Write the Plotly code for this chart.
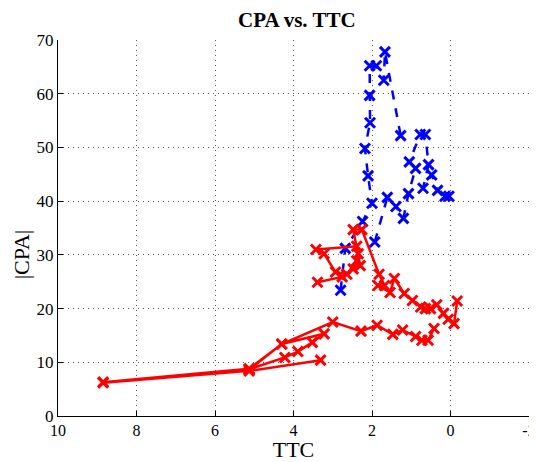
import plotly.graph_objects as go

# Blue track (dashed): TTC and |CPA|; None marks a break in the line
blue_ttc = [2.80, 2.68, 2.24, 2.00, 2.10, 2.18, 2.05, 2.06, 2.06, 1.89, 1.70, 1.67, 1.27,
            None,
            1.93, 1.61, 1.39, 1.20, 1.07, 0.89, 1.05, 0.77, 0.64, 0.56, 0.70, 0.48, 0.33, 0.14, 0.04]
blue_cpa = [23.4, 31.2, 36.2, 39.6, 44.7, 49.8, 54.6, 59.7, 65.2, 65.2, 62.5, 67.8, 52.2,
            None,
            32.4, 40.7, 39.0, 36.8, 41.4, 46.1, 47.3, 52.4, 52.4, 46.8, 42.4, 44.9, 42.0, 40.9, 40.9]

# Red track (solid)
red_ttc = [3.39, 2.76, 2.48, 2.35, 2.39, 3.43, 3.22, 2.93, 2.64, 2.39, 2.30, 2.48, 2.26, 1.82,
           1.68, 1.85, 1.54, 1.43, 1.18, 0.97, 0.76, 0.64, 0.51, 0.35, 0.18, 0.06, -0.09, -0.17,
           None,
           3.31, 5.13, 8.85, 5.13, 4.22, 3.89, 3.52, 3.22, 4.30, 5.13, 8.85, 5.13, 4.30, 3.00,
           2.28, 1.87, 1.47, 1.22, 0.89, 0.73, 0.57, 0.42]
red_cpa = [24.9, 25.9, 27.4, 30.2, 31.6, 31.0, 30.2, 26.8, 26.4, 28.9, 28.0, 34.7, 34.7, 26.4,
           24.3, 24.3, 23.0, 25.6, 22.8, 21.5, 20.3, 20.0, 20.0, 20.7, 19.1, 18.0, 17.2, 21.4,
           None,
           10.4, 8.4, 6.2, 8.7, 10.9, 12.0, 13.7, 15.3, 13.4, 8.6, 6.3, 8.8, 13.4, 17.5,
           15.8, 16.9, 15.2, 16.0, 14.8, 14.1, 14.1, 16.3]

x_ticks = [10, 8, 6, 4, 2, 0, -2]
y_ticks = [0, 10, 20, 30, 40, 50, 60, 70]

serif = "Liberation Serif"

fig = go.Figure()
fig.add_trace(go.Scatter(
    x=blue_ttc, y=blue_cpa, mode="lines+markers", connectgaps=False,
    line=dict(color="#0000ff", width=2.5, dash="dash"),
    marker=dict(symbol="x-thin", size=10, color="#0000ff",
                line=dict(color="#0000ff", width=3)),
    showlegend=False))
fig.add_trace(go.Scatter(
    x=red_ttc, y=red_cpa, mode="lines+markers", connectgaps=False,
    line=dict(color="#ff0000", width=2.5),
    marker=dict(symbol="x-thin", size=10, color="#ff0000",
                line=dict(color="#ff0000", width=3)),
    showlegend=False))

# the page body adds an 8px margin, so the figure is sized 8px smaller
fig.update_layout(
    width=529, height=454,
    margin=dict(l=50, r=1, t=32, b=46),
    paper_bgcolor="white", plot_bgcolor="white",
    font=dict(family=serif, size=17, color="black"),
    title=dict(text="<b>CPA vs. TTC</b>", x=0.546, xanchor="center",
               y=0.99, yanchor="top", font=dict(family=serif, size=21)),
    annotations=[dict(text="|CPA|", textangle=-90, showarrow=False,
                      xref="paper", yref="paper", x=0, y=0.43,
                      xanchor="center", yanchor="middle", xshift=-37,
                      font=dict(family=serif, size=22))],
)
fig.update_xaxes(
    range=[10, -2], tickvals=x_ticks, ticktext=[str(v) for v in x_ticks],
    showgrid=True, gridcolor="#555555", griddash="1px,4px", gridwidth=1,
    showline=True, linecolor="black", linewidth=1.3, mirror=False,
    ticks="inside", ticklen=5, tickcolor="black", zeroline=False,
    ticklabeloverflow="allow",
    title=dict(text="TTC", font=dict(family=serif, size=22), standoff=2),
    tickfont=dict(family=serif, size=16))
fig.update_yaxes(
    range=[0, 70], tickvals=y_ticks, ticktext=[str(v) for v in y_ticks],
    showgrid=True, gridcolor="#555555", griddash="1px,4px", gridwidth=1,
    showline=True, linecolor="black", linewidth=1.3, mirror=False,
    ticks="inside", ticklen=5, tickcolor="black", zeroline=False,
    tickfont=dict(family=serif, size=17))

fig.write_html("out.html")
